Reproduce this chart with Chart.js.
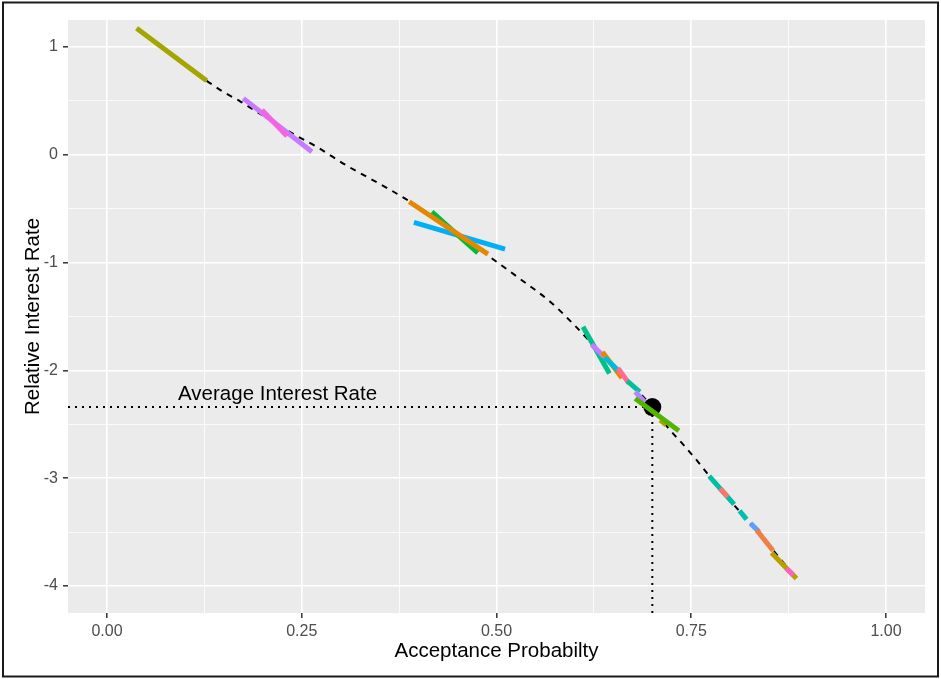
<!DOCTYPE html>
<html lang="en">
<head>
    <meta charset="UTF-8">
    <title>Acceptance Probabilty</title>
    <script src="https://cdn.jsdelivr.net/npm/chart.js@4"></script>
    <style>
        body { margin: 0; background: #fff; }
    </style>
</head>
<body>
<canvas id="myChart" width="941" height="679"></canvas>
<script>
    // Courbe en pointillés
    const courbeX = [0.128, 0.15, 0.17, 0.19, 0.21, 0.24, 0.27, 0.31, 0.36, 0.39, 0.44, 0.49, 0.53, 0.57,
                     0.60, 0.63, 0.66, 0.70, 0.72, 0.74, 0.76, 0.78, 0.80, 0.82, 0.84, 0.86, 0.885];
    const courbeY = [0.686, 0.58, 0.50, 0.41, 0.32, 0.19, 0.07, -0.11, -0.31, -0.44, -0.69, -0.94, -1.15, -1.37,
                     -1.58, -1.81, -2.03, -2.34, -2.53, -2.69, -2.86, -3.04, -3.21, -3.37, -3.54, -3.71, -3.93];

    // Segments colorés : début et fin
    const segDebutX = [0.038, 0.175, 0.199, 0.394, 0.417, 0.388, 0.611, 0.622, 0.636, 0.639, 0.656, 0.668, 0.678,
                       0.710, 0.678, 0.773, 0.787, 0.812, 0.826, 0.834, 0.853, 0.872];
    const segDebutY = [1.173, 0.523, 0.415, -0.627, -0.529, -0.436, -1.596, -1.76, -1.83, -1.88, -1.98, -2.10, -2.198,
                       -2.461, -2.260, -2.981, -3.095, -3.302, -3.419, -3.481, -3.692, -3.837];
    const segFinX = [0.128, 0.263, 0.231, 0.511, 0.476, 0.489, 0.645, 0.638, 0.661, 0.656, 0.670, 0.684, 0.690,
                     0.718, 0.734, 0.805, 0.797, 0.821, 0.837, 0.855, 0.885, 0.881];
    const segFinY = [0.686, 0.028, 0.173, -0.875, -0.909, -0.921, -2.028, -1.87, -2.07, -2.00, -2.12, -2.20, -2.291,
                     -2.507, -2.560, -3.243, -3.173, -3.382, -3.497, -3.673, -3.929, -3.899];
    const segCouleurs = ['#A3A500', '#C77CFF', '#F564E3', '#00B0F6', '#00BA38', '#E58700', '#00C08B', '#C77CFF',
                         '#E58700', '#00BCD8', '#FF6C91', '#00C19A', '#B983FF', '#ABA300', '#53B400', '#00BFA0',
                         '#F8766D', '#00BFB0', '#619CFF', '#F07F46', '#B79F00', '#FF61C3'];
    // le point moyen est dessiné avant ce segment
    const segApresPoint = 13;

    // Point moyen
    const moyenneX = 0.70;
    const moyenneY = -2.34;

    // Graduations et textes
    const xGrad = [0, 0.25, 0.5, 0.75, 1];
    const xGradMineure = [0.125, 0.375, 0.625, 0.875];
    const yGrad = [-4, -3, -2, -1, 0, 1];
    const yGradMineure = [-3.5, -2.5, -1.5, -0.5, 0.5];
    const xMin = -0.05, xMax = 1.05;
    const yMin = -4.25, yMax = 1.25;
    const xTitre = 'Acceptance Probabilty';
    const yTitre = 'Relative Interest Rate';
    const texteMoyenne = 'Average Interest Rate';
    const texteX = 0.219, texteY = -2.22;

    const police = '"Liberation Sans", Arial, sans-serif';

    // Construction des datasets
    let datasets = [];
    datasets.push({
        data: courbeX.map((x, i) => ({x: x, y: courbeY[i]})),
        borderColor: '#000', borderWidth: 2, borderDash: [6, 6],
        pointRadius: 0, cubicInterpolationMode: 'monotone'
    });
    // pointillés vers les axes
    datasets.push({
        data: [{x: xMin, y: moyenneY}, {x: moyenneX, y: moyenneY}],
        borderColor: '#000', borderWidth: 2, borderDash: [2, 5], pointRadius: 0
    });
    datasets.push({
        data: [{x: moyenneX, y: yMin}, {x: moyenneX, y: moyenneY}],
        borderColor: '#000', borderWidth: 2, borderDash: [2, 5], pointRadius: 0
    });
    segDebutX.forEach((x0, i) => {
        if (i === segApresPoint) {
            datasets.push({
                data: [{x: moyenneX, y: moyenneY}],
                showLine: false, pointRadius: 9, pointBackgroundColor: '#000', pointBorderWidth: 0
            });
        }
        datasets.push({
            data: [{x: x0, y: segDebutY[i]}, {x: segFinX[i], y: segFinY[i]}],
            borderColor: segCouleurs[i], borderWidth: 5, borderDash: [], pointRadius: 0, borderCapStyle: 'butt'
        });
    });
    // le dernier ajouté passe au-dessus (order plus petit = dessiné en dernier)
    datasets.forEach((d, i) => { d.order = -i; });

    let estMajeure = (liste, v) => liste.includes(v);

    let axe = (majeures, mineures, min, max, format) => ({
        type: 'linear', min: min, max: max,
        afterBuildTicks: (scale) => {
            scale.ticks = majeures.concat(mineures).sort((a, b) => a - b).map(v => ({value: v}));
        },
        border: {display: false},
        grid: {
            color: '#FFFFFF',
            lineWidth: (c) => estMajeure(majeures, c.tick.value) ? 1.6 : 0.8,
            tickColor: (c) => estMajeure(majeures, c.tick.value) ? '#333333' : 'rgba(0,0,0,0)',
            tickWidth: 1.5,
            tickLength: 5
        },
        ticks: {
            autoSkip: false, maxRotation: 0, minRotation: 0,
            color: '#4D4D4D', font: {family: police, size: 16},
            callback: (v) => estMajeure(majeures, v) ? format(v) : ''
        }
    });

    let axeX = axe(xGrad, xGradMineure, xMin, xMax, v => v.toFixed(2));
    axeX.ticks.padding = 4;
    axeX.afterFit = (scale) => { scale.height = 66; };
    let axeY = axe(yGrad, yGradMineure, yMin, yMax, v => String(v));
    axeY.ticks.padding = 5;
    axeY.afterFit = (scale) => { scale.width = 68; };

    // Fond du panneau, textes et cadre
    const decor = {
        id: 'decor',
        beforeDraw(chart) {
            const ctx = chart.ctx, a = chart.chartArea;
            ctx.save();
            ctx.fillStyle = '#FFFFFF';
            ctx.fillRect(0, 0, chart.width, chart.height);
            ctx.fillStyle = '#EBEBEB';
            ctx.fillRect(a.left, a.top, a.right - a.left, a.bottom - a.top);
            ctx.restore();
        },
        afterDraw(chart) {
            const ctx = chart.ctx, a = chart.chartArea;
            ctx.save();
            ctx.fillStyle = '#000';
            ctx.font = '20.5px ' + police;
            ctx.textAlign = 'center';
            ctx.textBaseline = 'middle';
            ctx.fillText(texteMoyenne, chart.scales.x.getPixelForValue(texteX), chart.scales.y.getPixelForValue(texteY));
            ctx.fillText(xTitre, (a.left + a.right) / 2, 651);
            ctx.translate(33, (a.top + a.bottom) / 2);
            ctx.rotate(-Math.PI / 2);
            ctx.fillText(yTitre, 0, 0);
            ctx.restore();

            ctx.save();
            ctx.strokeStyle = '#1A1A1A';
            ctx.lineWidth = 2;
            ctx.strokeRect(3, 2.5, 935, 674);
            ctx.restore();
        }
    };

    const ctx = document.getElementById('myChart').getContext('2d');
    const chart = new Chart(ctx, {
        type: 'line',
        data: {datasets: datasets},
        options: {
            responsive: false,
            devicePixelRatio: 1,
            animation: false,
            layout: {padding: {top: 20, right: 16, left: 0, bottom: 0}},
            plugins: {legend: {display: false}, tooltip: {enabled: false}},
            scales: {x: axeX, y: axeY}
        },
        plugins: [decor]
    });
</script>
</body>
</html>
